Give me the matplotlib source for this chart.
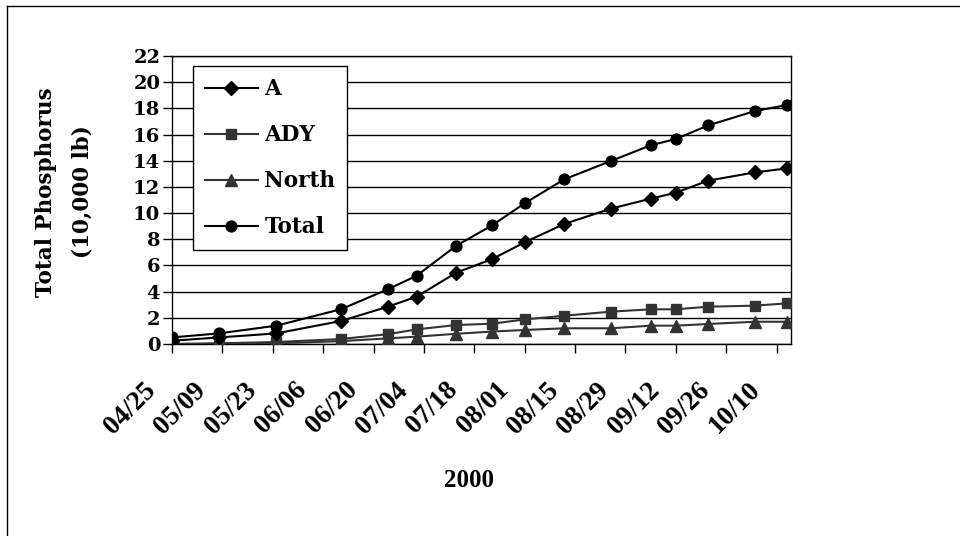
import matplotlib
matplotlib.use("Agg")
import matplotlib.pyplot as plt
from matplotlib.transforms import ScaledTranslation
from matplotlib.lines import Line2D
import datetime as dt

# ---- data ----
dates = ["2000-04-25", "2000-05-08", "2000-05-24", "2000-06-11", "2000-06-24",
         "2000-07-02", "2000-07-13", "2000-07-23", "2000-08-01", "2000-08-12",
         "2000-08-25", "2000-09-05", "2000-09-12", "2000-09-21", "2000-10-04",
         "2000-10-13"]
series_A = [0.25, 0.5, 0.81, 1.76, 2.85, 3.62, 5.45, 6.49, 7.77, 9.17,
            10.34, 11.10, 11.56, 12.48, 13.11, 13.42]
series_ADY = [0.0, 0.05, 0.15, 0.38, 0.75, 1.12, 1.45, 1.55, 1.88, 2.16,
              2.47, 2.65, 2.65, 2.85, 2.93, 3.11]
series_North = [0.0, 0.02, 0.05, 0.22, 0.43, 0.56, 0.78, 0.95, 1.07, 1.20,
                1.20, 1.40, 1.40, 1.53, 1.70, 1.70]
series_Total = [0.50, 0.81, 1.40, 2.66, 4.18, 5.22, 7.51, 9.07, 10.75, 12.58,
                13.98, 15.18, 15.66, 16.70, 17.80, 18.26]
tick_dates = ["2000-04-25", "2000-05-09", "2000-05-23", "2000-06-06", "2000-06-20",
              "2000-07-04", "2000-07-18", "2000-08-01", "2000-08-15", "2000-08-29",
              "2000-09-12", "2000-09-26", "2000-10-10"]
tick_labels = ["04/25", "05/09", "05/23", "06/06", "06/20", "07/04", "07/18",
               "08/01", "08/15", "08/29", "09/12", "09/26", "10/10"]
x_start, x_end = "2000-04-25", "2000-10-14"
y_ticks = list(range(0, 23, 2))

to_d = lambda s: dt.datetime.strptime(s, "%Y-%m-%d")
x = [to_d(s) for s in dates]

fig = plt.figure(figsize=(9.6, 5.36), dpi=100)
fig.patch.set_facecolor("white")
# outer chart border (left and top visible)
fig.add_artist(Line2D([7/960, 7/960], [0, 1 - 6/536], color="black", lw=1.0,
                      transform=fig.transFigure))
fig.add_artist(Line2D([7/960, 1], [1 - 6/536, 1 - 6/536], color="black", lw=1.0,
                      transform=fig.transFigure))

ax = fig.add_axes([172/960, 1 - 344/536, (791 - 172)/960, (344 - 56)/536])

serif_w = "DejaVu Serif"
serif_n = "Liberation Serif"

dark = "#333333"
ax.plot(x, series_A, color="black", lw=1.5, marker="D", ms=7.5, mfc="black",
        mec="black", label="A", zorder=4)
ax.plot(x, series_ADY, color=dark, lw=1.5, marker="s", ms=7.5, mfc=dark,
        mec=dark, label="ADY", zorder=3)
ax.plot(x, series_North, color=dark, lw=1.5, marker="^", ms=8.5, mfc=dark,
        mec=dark, label="North", zorder=3)
ax.plot(x, series_Total, color="black", lw=1.5, marker="o", ms=7.8, mfc="black",
        mec="black", label="Total", zorder=5)

ax.set_xlim(to_d(x_start), to_d(x_end))
ax.set_ylim(0, 22)
ax.set_yticks(y_ticks)
ax.set_yticklabels([str(v) for v in y_ticks], fontfamily=serif_w,
                   fontweight="bold", fontsize=14)
ax.yaxis.grid(True, color="black", lw=1.0)
ax.set_axisbelow(True)

ax.set_xticks([to_d(s) for s in tick_dates])
ax.set_xticklabels(tick_labels, rotation=45, ha="right", va="center",
                   rotation_mode="anchor", fontfamily=serif_n,
                   fontweight="bold", fontsize=19.5)
ax.tick_params(axis="x", direction="out", length=6.5, width=1.0, pad=24)
ax.tick_params(axis="y", direction="out", length=6.5, width=1.0, pad=2)
offset = ScaledTranslation(-20/100, 0, fig.dpi_scale_trans)
for lab in ax.get_xticklabels():
    lab.set_transform(lab.get_transform() + offset)

for sp in ax.spines.values():
    sp.set_color("black")
    sp.set_linewidth(1.0)

ax.set_xlabel("2000", fontfamily=serif_n, fontweight="bold", fontsize=18)
ax.xaxis.set_label_coords(0.479, -(469 - 344)/288)
ax.set_ylabel("Total Phosphorus\n(10,000 lb)", fontfamily=serif_w,
              fontweight="bold", fontsize=15.5, linespacing=1.9)
ax.yaxis.set_label_coords(-(172 - 94)/619, (344 - 192)/288)

leg = ax.legend(loc="upper left", bbox_to_anchor=((193 - 172)/619, (344 - 66)/288),
                borderaxespad=0, frameon=True, fancybox=False, shadow=False,
                prop={"family": serif_w, "weight": "bold", "size": 15.5},
                handlelength=2.45, handletextpad=0.3, labelspacing=1.12,
                borderpad=0.56)
leg.get_frame().set_edgecolor("black")
leg.get_frame().set_linewidth(1.0)
leg.get_frame().set_facecolor("white")
leg.get_frame().set_alpha(1)
leg.set_zorder(10)

fig.savefig("out.png", dpi=100, facecolor="white")
